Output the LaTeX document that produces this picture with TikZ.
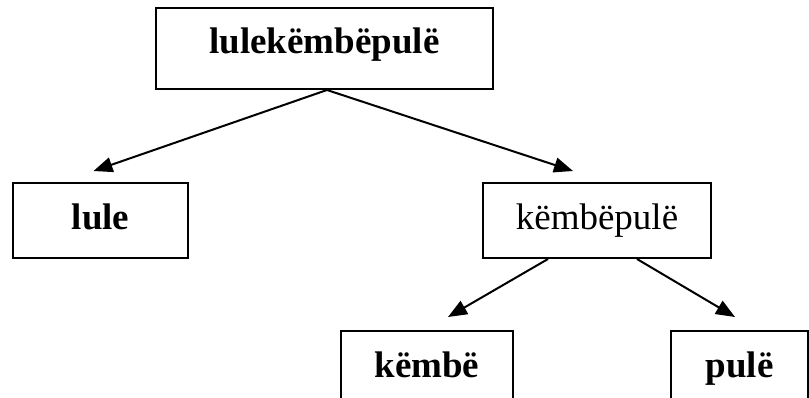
\documentclass[tikz,border=0pt]{standalone}
\usepackage{fontspec}
\setmainfont{Liberation Serif}
\usetikzlibrary{arrows.meta}

\begin{document}
\begin{tikzpicture}[x=1pt,y=-1pt,
   box/.style={draw,line width=2pt,inner sep=0pt,minimum height=75pt,
      text height=25pt,text depth=8pt,font=\fontsize{37}{44}\selectfont},
   arr/.style={line width=2pt,-{Triangle[length=19pt,width=15pt]}}]
   \useasboundingbox (0,0) rectangle (809,397);
   % compound and its parts
   \node[box,minimum width=337pt,minimum height=81pt,text depth=16pt] (whole) at (324.5,48.5) {\textbf{lulekëmbëpulë}};
   \node[box,minimum width=175pt] (lule)  at (100.5,220.5) {\textbf{lule}};
   \node[box,minimum width=228pt] (rest)  at (597,220.5)   {këmbëpulë};
   \node[box,minimum width=172pt] (kembe) at (427,368.5)   {\textbf{këmbë}};
   \node[box,minimum width=137pt] (pule)  at (739.5,368.5) {\textbf{pulë}};
   % splits
   \draw[arr] ([xshift=2.5pt]whole.south) -- ([xshift=-7pt,yshift=11pt]lule.north);
   \draw[arr] ([xshift=2.5pt]whole.south) -- ([xshift=-24pt,yshift=11pt]rest.north);
   \draw[arr] ([xshift=-49pt]rest.south) -- ([xshift=21pt,yshift=13pt]kembe.north);
   \draw[arr] ([xshift=40pt]rest.south)  -- ([xshift=-4.5pt,yshift=13pt]pule.north);
\end{tikzpicture}
\end{document}
